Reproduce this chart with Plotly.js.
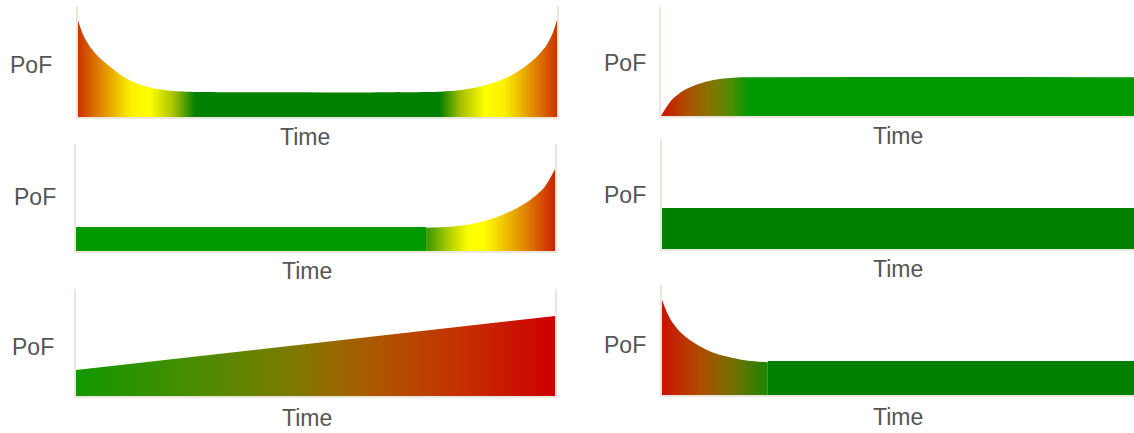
<!DOCTYPE html>
<html>
<head>
<meta charset="utf-8">
<script src="https://cdn.plot.ly/plotly-3.0.1.min.js"></script>
<style>
  html, body { margin: 0; padding: 0; background: #fff; }
  #chart { width: 1134px; height: 433px; }
</style>
</head>
<body>
<div id="chart"></div>
<script>
// PoF failure patterns — six small panels, PoF (0..100) against Time (0..100).

// ── Data ─────────────────────────────────────────────────────────────────────
// A: bathtub curve
const bathX = [0, 1.1, 2.5, 4.6, 6.7, 9.5, 12.2, 15.7, 19.2, 22.7, 75.6, 79.5, 83.5, 87.2, 90.4, 93.3, 95.6, 97.7, 99, 100];
const bathY = [87, 73.9, 63.4, 52.9, 45.3, 36.3, 30.4, 25.8, 23.7, 22.8, 22.8, 24, 27, 31.5, 37.5, 45.3, 53.5, 64, 74.5, 87.4];

// B: rising early, then constant
const riseX = [0, 1.2, 2.6, 4.7, 7.5, 11, 14.6, 18.1, 100];
const riseY = [0, 8.5, 16.2, 23.2, 28.7, 33, 34.9, 35.5, 35.5];

// C: constant, then wear-out
const flatCX = [0, 73.1];
const flatCY = [22.4, 22.4];
const wearX = [73.1, 78.1, 82.6, 87.1, 91.3, 94.8, 97.6, 100];
const wearY = [21.8, 22.7, 25.2, 30.5, 38.3, 47.7, 58.6, 76.4];

// D: constant
const flatDX = [0, 100];
const flatDY = [37.3, 37.3];

// E: steady increase
const lineX = [0, 100];
const lineY = [24.3, 74.8];

// F: infant mortality, then constant
const infantX = [0, 1.0, 2.1, 3.8, 5.9, 8.4, 11.2, 14.8, 18.3, 22.4];
const infantY = [86.4, 75.7, 66.6, 57.6, 50, 43.4, 37.9, 33.9, 31.2, 29.8];
const flatFX = [22.4, 100];
const flatFY = [30.9, 30.9];

// ── Panel boxes in page pixels: [left, right, top, bottom] ───────────────────
const W = 1134, H = 433;
const boxes = [
  [78, 557, 6, 117],    // A
  [661, 1134, 7, 116],  // B
  [76, 555, 144, 251],  // C
  [662, 1134, 139, 249],// D
  [76, 555, 289, 396],  // E
  [662, 1134, 285, 395] // F
];
const pofPos  = [[31, 65], [625, 63], [35, 197], [625, 195], [33, 347], [625, 345]];
const timePos = [[305, 137], [898, 136], [307, 271], [898, 269], [307, 418], [898, 417]];

const GREEN = "#008000", GREEN2 = "#009900";

function area(i, x, y, fill) {
  const s = i === 0 ? "" : String(i + 1);
  const t = { x, y, xaxis: "x" + s, yaxis: "y" + s, type: "scatter", mode: "lines",
              fill: "tozeroy", line: { width: 0, shape: "spline", smoothing: 0.8 },
              hoverinfo: "skip", showlegend: false };
  if (typeof fill === "string") t.fillcolor = fill;
  else t.fillgradient = Object.assign({ type: "horizontal" }, fill);
  return t;
}

const traces = [
  area(0, bathX, bathY, { start: 0, stop: 100, colorscale: [
    [0, "#cc3300"], [0.05, "#e08a00"], [0.11, "#fbf000"], [0.15, "#ffff00"],
    [0.2, "#a8c000"], [0.245, GREEN], [0.755, GREEN], [0.8, "#a8c000"],
    [0.85, "#ffff00"], [0.89, "#fbf000"], [0.95, "#e08a00"], [1, "#cc3300"]] }),
  area(1, riseX, riseY, { start: 0, stop: 100, colorscale: [
    [0, "#cc1100"], [0.05, "#b04a00"], [0.1, "#8a7200"], [0.15, "#4c8c00"],
    [0.185, GREEN2], [1, GREEN2]] }),
  area(2, flatCX, flatCY, GREEN2),
  area(2, wearX, wearY, { start: 73.1, stop: 100, colorscale: [
    [0, "#3a9400"], [0.18, "#b0d000"], [0.33, "#ffff00"], [0.45, "#ffff00"],
    [0.7, "#e6a000"], [1, "#cc2200"]] }),
  area(3, flatDX, flatDY, GREEN),
  area(4, lineX, lineY, { start: 0, stop: 100, colorscale: [
    [0, "#119900"], [0.25, "#4a8c00"], [0.45, "#7c7a00"], [0.6, "#a85c00"],
    [0.8, "#c63000"], [1, "#cc0000"]] }),
  area(5, infantX, infantY, { start: 0, stop: 22.4, colorscale: [
    [0, "#cc1100"], [0.35, "#b04a00"], [0.65, "#7a6e00"], [1, "#1a8500"]] }),
  area(5, flatFX, flatFY, GREEN),
];

const layout = {
  width: W, height: H,
  margin: { l: 0, r: 0, t: 0, b: 0 },
  paper_bgcolor: "#ffffff", plot_bgcolor: "#ffffff",
  showlegend: false,
  font: { family: "Liberation Sans, Arial, sans-serif", size: 23, color: "#555555" },
  annotations: [],
};

boxes.forEach(([l, r, t, b], i) => {
  const s = i === 0 ? "" : String(i + 1);
  const common = { showgrid: false, zeroline: false, showticklabels: false, ticks: "",
                   showline: true, linecolor: "#ebe7da", linewidth: 2, fixedrange: true };
  layout["xaxis" + s] = Object.assign({}, common, {
    domain: [l / W, r / W], range: [0, 100], anchor: "y" + s });
  layout["yaxis" + s] = Object.assign({}, common, {
    domain: [1 - b / H, 1 - t / H], range: [0, 100], anchor: "x" + s,
    mirror: r < W });   // left-column panels also show a right edge
  layout.annotations.push(
    { text: "PoF", xref: "paper", yref: "paper", x: pofPos[i][0] / W, y: 1 - pofPos[i][1] / H,
      xanchor: "center", yanchor: "middle", showarrow: false },
    { text: "Time", xref: "paper", yref: "paper", x: timePos[i][0] / W, y: 1 - timePos[i][1] / H,
      xanchor: "center", yanchor: "middle", showarrow: false });
});

Plotly.newPlot("chart", traces, layout, { displayModeBar: false, staticPlot: true });
</script>
</body>
</html>
